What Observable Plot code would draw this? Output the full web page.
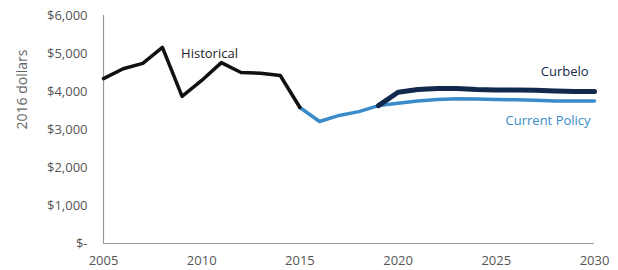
<!DOCTYPE html>
<html><head><meta charset="utf-8">
<script src="https://cdn.jsdelivr.net/npm/d3@7"></script>
<script src="https://cdn.jsdelivr.net/npm/@observablehq/plot@0.6"></script>
<style>body{margin:0;background:#fff;font-family:"Open Sans",sans-serif}</style>
</head><body><div id="chart"></div>
<script>
const histYears = [2005,2006,2007,2008,2009,2010,2011,2012,2013,2014,2015];
const histValues = [4340,4600,4740,5160,3870,4290,4760,4500,4480,4420,3580];
const policyYears = [2015,2016,2017,2018,2019,2020,2021,2022,2023,2024,2025,2026,2027,2028,2029,2030];
const policyValues = [3580,3210,3370,3470,3630,3690,3750,3790,3810,3800,3790,3780,3770,3750,3750,3750];
const curbeloYears = [2019,2020,2021,2022,2023,2024,2025,2026,2027,2028,2029,2030];
const curbeloValues = [3630,3980,4050,4080,4080,4050,4040,4040,4030,4010,4000,4000];
const yTicks = [0,1000,2000,3000,4000,5000,6000];
const xTicks = [2005,2010,2015,2020,2025,2030];

const hist = histYears.map((x,i)=>({x,y:histValues[i]}));
const policy = policyYears.map((x,i)=>({x,y:policyValues[i]}));
const curbelo = curbeloYears.map((x,i)=>({x,y:curbeloValues[i]}));
const yFmt = d => d === 0 ? "$-" : "$" + d3.format(",")(d);

const chart = Plot.plot({
  width: 618, height: 270,
  marginLeft: 103, marginRight: 24, marginTop: 15, marginBottom: 27,
  style: {fontFamily: "'Open Sans', sans-serif", fontSize: "13px", color: "#555"},
  x: {domain: [2005, 2030], label: null},
  y: {domain: [0, 6000], label: null},
  marks: [
    Plot.axisY({ticks: yTicks, tickSize: 0, tickPadding: 16, label: null, tickFormat: yFmt, fontSize: 13, fill: "#555"}),
    Plot.axisX({ticks: xTicks, tickSize: 0, tickPadding: 12, label: null, tickFormat: d => String(d), fontSize: 13, fill: "#555"}),
    Plot.ruleX([2005], {stroke: "#999", strokeWidth: 1.2}),
    Plot.ruleY([0], {stroke: "#999", strokeWidth: 1.2}),
    Plot.line(policy, {x: "x", y: "y", stroke: "#3a8bc8", strokeWidth: 3.5}),
    Plot.line(curbelo, {x: "x", y: "y", stroke: "#13284d", strokeWidth: 5}),
    Plot.line(hist, {x: "x", y: "y", stroke: "#111", strokeWidth: 3.5}),
    Plot.text([{x: 2008.95, y: 5000, t: "Historical"}], {x: "x", y: "y", text: "t", textAnchor: "start", fill: "#222", fontSize: 13}),
    Plot.text([{x: 2029.7, y: 4530, t: "Curbelo"}], {x: "x", y: "y", text: "t", textAnchor: "end", fill: "#13284d", fontSize: 13}),
    Plot.text([{x: 2029.8, y: 3240, t: "Current Policy"}], {x: "x", y: "y", text: "t", textAnchor: "end", fill: "#3a8bc8", fontSize: 13}),
    Plot.text([{t: "2016 dollars"}], {frameAnchor: "left", dx: -81, text: "t", rotate: -90, fill: "#666", fontSize: 14})
  ]
});
document.getElementById("chart").appendChild(chart);
</script></body></html>
